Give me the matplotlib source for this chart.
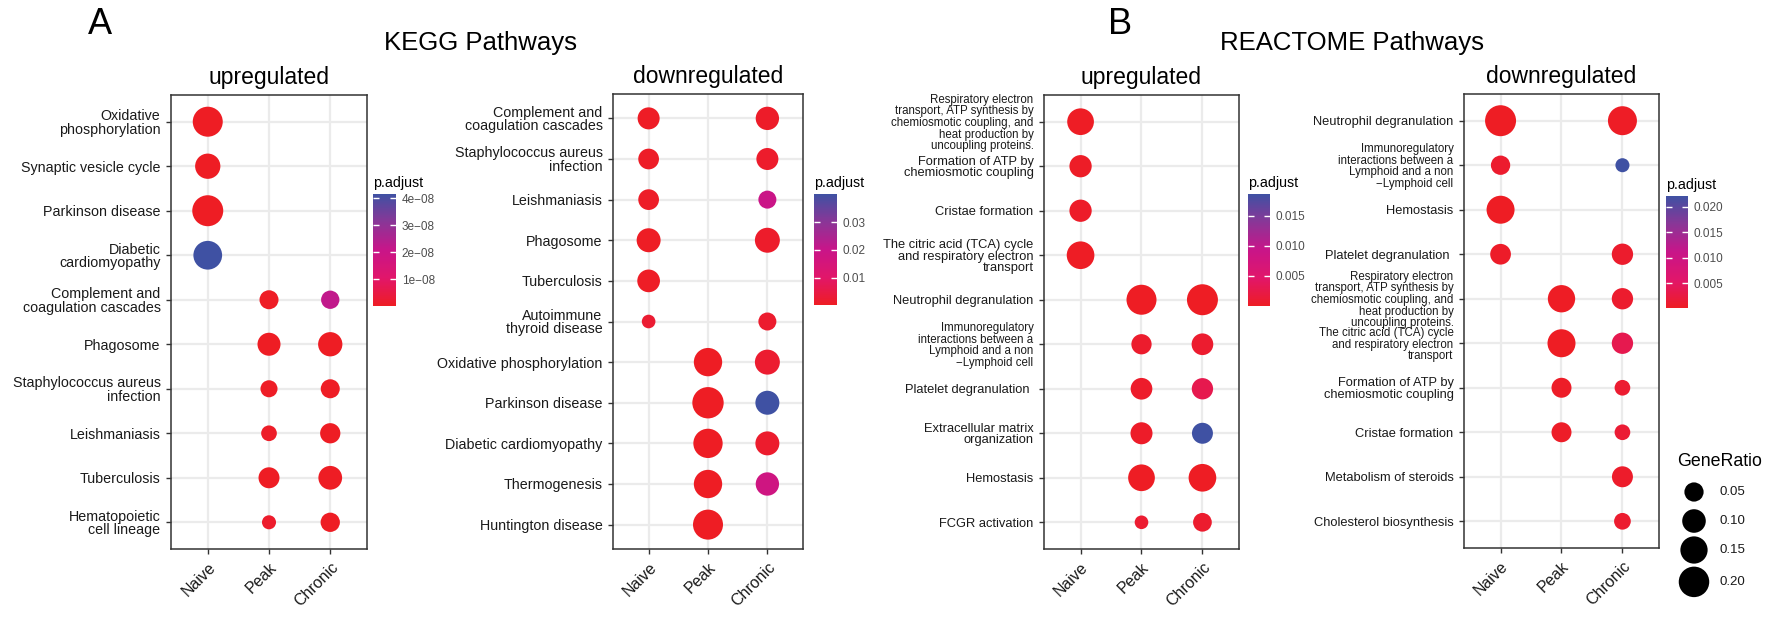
import numpy as np
import matplotlib
matplotlib.use("Agg")
import matplotlib.pyplot as plt
from matplotlib.colors import LinearSegmentedColormap, Normalize
from matplotlib.cm import ScalarMappable
from matplotlib.transforms import ScaledTranslation

plt.rcParams['font.family'] = ['Liberation Sans', 'DejaVu Sans']

nan = np.nan
W, H = 1781, 618
conditions = ['Naive', 'Peak', 'Chronic']

# ---- KEGG upregulated ----
kegg_up_terms = ['Oxidative\nphosphorylation', 'Synaptic vesicle cycle', 'Parkinson disease',
                 'Diabetic\ncardiomyopathy', 'Complement and\ncoagulation cascades', 'Phagosome',
                 'Staphylococcus aureus\ninfection', 'Leishmaniasis', 'Tuberculosis',
                 'Hematopoietic\ncell lineage']
# GeneRatio per term: Naive, Peak, Chronic
kegg_up_ratio = [[0.192, nan, nan], [0.122, nan, nan], [0.208, nan, nan], [0.172, nan, nan],
                 [nan, 0.048, 0.041], [nan, 0.093, 0.109], [nan, 0.029, 0.048],
                 [nan, 0.017, 0.061], [nan, 0.069, 0.102], [nan, 0.004, 0.051]]
kegg_up_padj = [[2e-12, nan, nan], [5e-12, nan, nan], [1e-12, nan, nan], [4.15e-8, nan, nan],
                [nan, 3e-10, 2.2e-8], [nan, 1e-11, 1e-12], [nan, 4e-10, 2e-10],
                [nan, 8e-10, 1e-11], [nan, 2e-11, 1e-12], [nan, 1.2e-9, 5e-11]]

# ---- KEGG downregulated ----
kegg_down_terms = ['Complement and\ncoagulation cascades', 'Staphylococcus aureus\ninfection',
                   'Leishmaniasis', 'Phagosome', 'Tuberculosis', 'Autoimmune\nthyroid disease',
                   'Oxidative phosphorylation', 'Parkinson disease', 'Diabetic cardiomyopathy',
                   'Thermogenesis', 'Huntington disease']
kegg_down_ratio = [[0.081, nan, 0.097], [0.066, nan, 0.081], [0.066, nan, 0.038],
                   [0.105, nan, 0.118], [0.089, nan, nan], [0.001, nan, 0.038],
                   [nan, 0.166, 0.118], [nan, 0.214, 0.105], [nan, 0.181, 0.105],
                   [nan, 0.166, 0.097], [nan, 0.192, nan]]
kegg_down_padj = [[0.0004, nan, 0.0009], [0.0006, nan, 0.0012], [0.0008, nan, 0.0195],
                  [0.0002, nan, 0.0011], [0.0005, nan, nan], [0.0021, nan, 0.0016],
                  [nan, 0.00004, 0.0018], [nan, 0.00003, 0.0403], [nan, 0.00005, 0.0013],
                  [nan, 0.00006, 0.0178], [nan, 0.00004, nan]]

# ---- REACTOME upregulated ----
resp = ('Respiratory electron\ntransport, ATP synthesis by\nchemiosmotic coupling, and\n'
        'heat production by\nuncoupling proteins.')
immuno = 'Immunoregulatory\ninteractions between a\nLymphoid and a non\n\u2212Lymphoid cell'
tca = 'The citric acid (TCA) cycle\nand respiratory electron\ntransport'
atp = 'Formation of ATP by\nchemiosmotic coupling'

react_up_terms = [resp, atp, 'Cristae formation', tca, 'Neutrophil degranulation', immuno,
                  'Platelet degranulation ', 'Extracellular matrix\norganization', 'Hemostasis',
                  'FCGR activation']
react_up_ratio = [[0.142, nan, nan], [0.084, nan, nan], [0.084, nan, nan], [0.156, nan, nan],
                  [nan, 0.192, 0.208], [nan, 0.061, 0.077], [nan, 0.077, 0.073],
                  [nan, 0.081, 0.069], [nan, 0.142, 0.156], [nan, 0.001, 0.045]]
react_up_padj = [[0.0001, nan, nan], [0.0003, nan, nan], [0.0004, nan, nan], [0.0001, nan, nan],
                 [nan, 0.00002, 0.00001], [nan, 0.0006, 0.0008], [nan, 0.0005, 0.0028],
                 [nan, 0.0004, 0.0186], [nan, 0.00003, 0.00002], [nan, 0.0009, 0.0007]]

# ---- REACTOME downregulated ----
react_down_terms = ['Neutrophil degranulation', immuno, 'Hemostasis', 'Platelet degranulation ',
                    resp, tca, atp, 'Cristae formation', 'Metabolism of steroids',
                    'Cholesterol biosynthesis']
react_down_ratio = [[0.208, nan, 0.176], [0.051, nan, 0.004], [0.161, nan, nan],
                    [0.066, nan, 0.073], [nan, 0.151, 0.073], [nan, 0.161, 0.073],
                    [nan, 0.058, 0.017], [nan, 0.058, 0.017], [nan, nan, 0.069],
                    [nan, nan, 0.026]]
react_down_padj = [[0.0001, nan, 0.0003], [0.0009, nan, 0.0221], [0.0001, nan, nan],
                   [0.0006, nan, 0.0008], [nan, 0.0002, 0.0009], [nan, 0.0001, 0.0035],
                   [nan, 0.0005, 0.0012], [nan, 0.0005, 0.0014], [nan, nan, 0.0007],
                   [nan, nan, 0.0010]]

# colourbar ticks
cb_ticks = [[1e-8, 2e-8, 3e-8, 4e-8], [0.01, 0.02, 0.03],
            [0.005, 0.010, 0.015], [0.005, 0.010, 0.015, 0.020]]
cb_labels = [['1e\u221208', '2e\u221208', '3e\u221208', '4e\u221208'], ['0.01', '0.02', '0.03'],
             ['0.005', '0.010', '0.015'], ['0.005', '0.010', '0.015', '0.020']]
size_breaks = [0.05, 0.10, 0.15, 0.20]

cmap = LinearSegmentedColormap.from_list(
    'padj', ['#EE1D24', '#E1166A', '#C81589', '#8A3697', '#3F51A3'])


def dot_diam(r):
    # diameter in pixels
    return np.sqrt(182 + 3740 * np.asarray(r, dtype=float))


def dot_area(r):
    return (0.72 * dot_diam(r)) ** 2


def px_rect(x0, y0, x1, y1):
    return [x0 / W, 1 - y1 / H, (x1 - x0) / W, (y1 - y0) / H]


fig = plt.figure(figsize=(W / 100, H / 100), dpi=100)


def draw_panel(rect, terms, ratio, padj, title, label_size, small=(), shift=0):
    ax = fig.add_axes(px_rect(*rect))
    ratio = np.array(ratio, dtype=float)
    padj = np.array(padj, dtype=float)
    n = len(terms)
    ypos = n - np.arange(n)
    yy, xx = np.meshgrid(ypos, np.arange(1, 4), indexing='ij')
    ok = ~np.isnan(ratio)
    norm = Normalize(np.nanmin(padj), np.nanmax(padj))
    ax.scatter(xx[ok], yy[ok], s=dot_area(ratio[ok]), c=padj[ok], cmap=cmap, norm=norm,
               linewidths=0, zorder=3)
    ax.set_xlim(0.4, 3.6)
    ax.set_ylim(0.4, n + 0.6)
    ax.set_xticks([1, 2, 3])
    ax.set_xticklabels(conditions, rotation=45, ha='right', rotation_mode='anchor', fontsize=11.5)
    ax.set_yticks(ypos)
    ax.set_yticklabels(terms)
    for lab, t in zip(ax.get_yticklabels(), terms):
        lab.set_fontsize(8.3 if t in small else label_size)
        lab.set_linespacing(0.95)
        if shift:
            lab.set_transform(lab.get_transform() + ScaledTranslation(0, shift / 100, fig.dpi_scale_trans))
    ax.grid(True, color='#ebebeb', lw=1.6)
    ax.set_axisbelow(True)
    for sp in ax.spines.values():
        sp.set_color('#333333')
        sp.set_linewidth(1.1)
    ax.tick_params(length=3.5, width=1, color='#333333', labelcolor='#1a1a1a', pad=4)
    ax.set_title(title, fontsize=16.5, pad=8)
    return norm


def draw_cbar(rect, norm, ticks, labels):
    cax = fig.add_axes(px_rect(*rect))
    cb = fig.colorbar(ScalarMappable(norm=norm, cmap=cmap), cax=cax)
    cb.outline.set_visible(False)
    cb.set_ticks(ticks, labels=labels)
    cax.minorticks_off()
    cax.tick_params(direction='in', color='white', length=4, width=1, left=True, right=True,
                    labelsize=8.5, labelcolor='#4d4d4d', pad=4)
    cax.set_title('p.adjust', loc='left', fontsize=10.3, pad=5)


n1 = draw_panel((171, 95, 367, 549), kegg_up_terms, kegg_up_ratio, kegg_up_padj, 'upregulated', 10.3)
n2 = draw_panel((613, 94, 803, 549), kegg_down_terms, kegg_down_ratio, kegg_down_padj,
                'downregulated', 10.3, shift=5)
n3 = draw_panel((1044, 95, 1239, 549), react_up_terms, react_up_ratio, react_up_padj,
                'upregulated', 9.3, small=(resp, immuno))
n4 = draw_panel((1464, 94, 1659, 548), react_down_terms, react_down_ratio, react_down_padj,
                'downregulated', 9.3, small=(resp, immuno, tca))

draw_cbar((373, 194, 396, 306), n1, cb_ticks[0], cb_labels[0])
draw_cbar((814, 194, 837, 305), n2, cb_ticks[1], cb_labels[1])
draw_cbar((1248, 194, 1270, 306), n3, cb_ticks[2], cb_labels[2])
draw_cbar((1666, 196, 1688, 308), n4, cb_ticks[3], cb_labels[3])

# overlay in pixel coordinates for panel letters, headers and the size legend
ov = fig.add_axes([0, 0, 1, 1])
ov.set_xlim(0, W)
ov.set_ylim(H, 0)
ov.axis('off')
ov.text(100, 25, 'A', fontsize=26, ha='center', va='center')
ov.text(1120, 25, 'B', fontsize=26, ha='center', va='center')
ov.text(481, 43, 'KEGG Pathways', fontsize=18.5, ha='center', va='center')
ov.text(1352, 43, 'REACTOME Pathways', fontsize=18.5, ha='center', va='center')

ov.text(1677, 461, 'GeneRatio', fontsize=12.8, ha='left', va='center')
d = dot_diam(size_breaks)
ys = [492.0]
for i in range(1, len(d)):
    ys.append(ys[-1] + max(29.0, (d[i - 1] + d[i]) / 2 + 3))
ov.scatter([1694] * len(size_breaks), ys, s=dot_area(size_breaks), c='black', linewidths=0)
for y, b in zip(ys, size_breaks):
    ov.text(1720, y, f'{b:.2f}', fontsize=9.5, ha='left', va='center', color='#1a1a1a')

fig.savefig('out.png', dpi=100)
